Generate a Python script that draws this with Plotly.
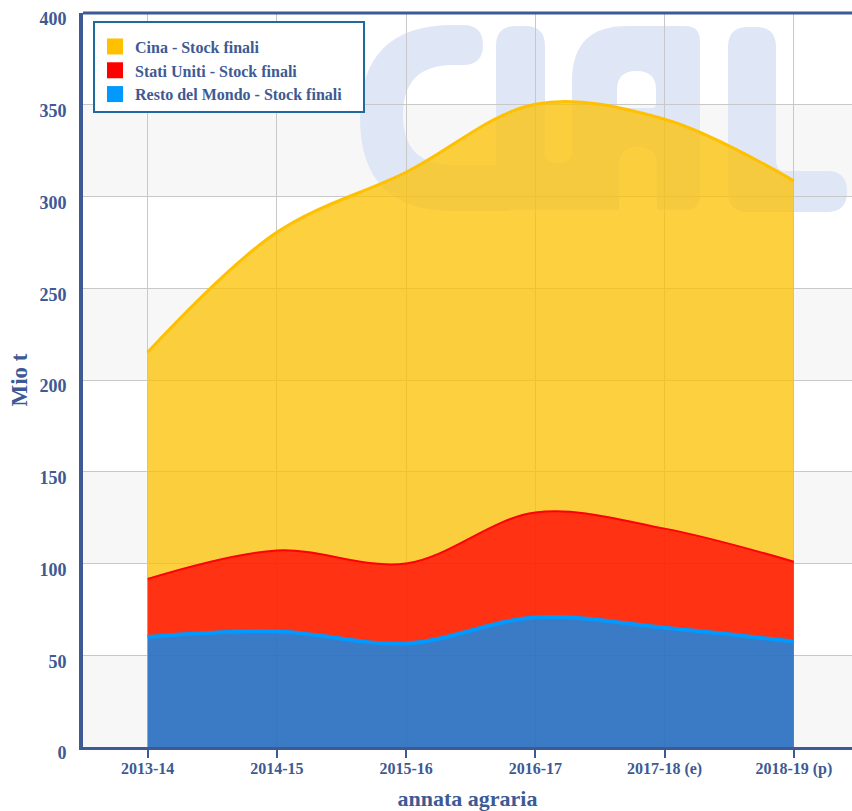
import math
import plotly.graph_objects as go

# ---------------- data ----------------
categories = ["2013-14", "2014-15", "2015-16", "2016-17", "2017-18 (e)", "2018-19 (p)"]
resto_mondo = [60.0, 63.0, 56.4, 70.6, 65.0, 57.5]
stati_uniti = [31.6, 44.1, 43.6, 57.2, 54.0, 43.5]
cina = [123.5, 173.4, 213.2, 222.5, 223.1, 207.5]
series_names = ["Cina - Stock finali", "Stati Uniti - Stock finali", "Resto del Mondo - Stock finali"]
y_ticks = [0, 50, 100, 150, 200, 250, 300, 350, 400]

# ---------------- style ----------------
TXT = "#3d5a94"
FONT = "Liberation Serif"
W, H = 852, 811
ML, MR, MT, MB = 83, 0, 13, 64
PW, PH = W - ML - MR, H - MT - MB


def P(x, y):
    return f"{(x - ML) / PW:.5f},{(MT + PH - y) / PH:.5f}"


def rpath(pts, radii):
    out = []
    n = len(pts)
    for i in range(n):
        px, py = pts[i]
        ax, ay = pts[i - 1]
        bx, by = pts[(i + 1) % n]
        r = radii[i]
        cmd = "M" if i == 0 else "L"
        if r == 0:
            out.append(f"{cmd}{P(px, py)}")
        else:
            du = math.hypot(ax - px, ay - py)
            dv = math.hypot(bx - px, by - py)
            s = (px + (ax - px) / du * r, py + (ay - py) / du * r)
            e = (px + (bx - px) / dv * r, py + (by - py) / dv * r)
            out.append(f"{cmd}{P(*s)}")
            out.append(f"Q{P(px, py)} {P(*e)}")
    out.append("Z")
    return " ".join(out)


fig = go.Figure()

# stacked areas
fig.add_trace(go.Scatter(
    x=categories, y=resto_mondo, name=series_names[2], stackgroup="s",
    mode="lines", line=dict(color="#0099ff", width=4, shape="spline", smoothing=1),
    fillcolor="rgba(44,112,191,0.93)", showlegend=False, hoverinfo="skip"))
fig.add_trace(go.Scatter(
    x=categories, y=stati_uniti, name=series_names[1], stackgroup="s",
    mode="lines", line=dict(color="#ff0000", width=2, shape="spline", smoothing=1),
    fillcolor="rgba(255,34,0,0.92)", showlegend=False, hoverinfo="skip"))
fig.add_trace(go.Scatter(
    x=categories, y=cina, name=series_names[0], stackgroup="s",
    mode="lines", line=dict(color="#ffc000", width=3, shape="spline", smoothing=1),
    fillcolor="rgba(252,192,0,0.75)", showlegend=False, hoverinfo="skip"))

# legend entries
for nm, col in zip(series_names, ["#ffc000", "#ff0000", "#0099ff"]):
    fig.add_trace(go.Scatter(x=[None], y=[None], mode="markers", name=nm + "\u00a0\u00a0\u00a0\u00a0",
                             marker=dict(symbol="square", size=16, color=col)))

shapes = []
# alternating bands
for lo in y_ticks[:-1:2]:
    shapes.append(dict(type="rect", xref="paper", yref="paper", x0=0, x1=1,
                       y0=lo / y_ticks[-1], y1=(lo + 50) / y_ticks[-1],
                       fillcolor="#f7f7f7", line_width=0, layer="below"))
WM = "#dfe6f5"
# watermark "CIAL"
c_pts = [(483, 25), (360, 25), (360, 211), (510, 211), (510, 165), (403, 165), (403, 65), (483, 65)]
c_r = [20, 93, 93, 0, 0, 50, 50, 20]
ia_pts = [(496, 26), (545, 26), (545, 163), (572, 163), (572, 26), (700, 26), (700, 210),
          (657, 210), (657, 147), (619, 147), (619, 210), (496, 210)]
ia_r = [20, 20, 12, 12, 55, 15, 15, 0, 19, 19, 0, 20]
hole = [(617, 71), (617, 108), (656, 108), (656, 71)]
hole_r = [19, 4, 4, 19]
l_pts = [(728, 27), (776, 27), (776, 171), (847, 171), (847, 212), (728, 212)]
l_r = [20, 20, 10, 20, 20, 20]
for path in [rpath(c_pts, c_r), rpath(ia_pts, ia_r) + " " + rpath(hole, hole_r), rpath(l_pts, l_r)]:
    shapes.append(dict(type="path", xref="paper", yref="paper", path=path,
                       fillcolor=WM, line_width=0, layer="below"))
# top border
shapes.append(dict(type="line", xref="paper", yref="paper", x0=0, x1=1, y0=1, y1=1,
                   line=dict(color=TXT, width=3), layer="above"))

fig.update_layout(
    width=W, height=H,
    margin=dict(l=ML, r=MR, t=MT, b=MB, autoexpand=False),
    paper_bgcolor="white", plot_bgcolor="white",
    font=dict(family=FONT, color=TXT, weight="bold"),
    shapes=shapes,
    showlegend=True,
    legend=dict(x=0.013, y=0.989, xanchor="left", yanchor="top", traceorder="normal",
                bgcolor="white", bordercolor="#1f6a9c", borderwidth=2,
                title=dict(text="\u00a0", font=dict(size=5)),
                font=dict(family=FONT, size=16, color=TXT, weight="bold")),
    xaxis=dict(type="category", range=[-0.5, 5.45], showgrid=True, gridcolor="#c8c8c8",
               gridwidth=1, showline=True, linewidth=3, linecolor=TXT, automargin=False,
               ticks="outside", ticklen=8, tickwidth=2, tickcolor=TXT, ticklabelstandoff=-3,
               tickfont=dict(size=16, family=FONT, color=TXT, weight="bold"),
               title=dict(text="annata agraria", standoff=16,
                          font=dict(size=22, family=FONT, color=TXT, weight="bold"))),
    yaxis=dict(range=[0, 400], tickvals=y_ticks, showgrid=True, gridcolor="#c8c8c8",
               gridwidth=1, showline=True, linewidth=4, linecolor=TXT, zeroline=False,
               automargin=False, ticklabeloverflow="allow",
               ticks="", ticklabelstandoff=9, ticklabelshift=6,
               tickfont=dict(size=18, family=FONT, color=TXT, weight="bold"),
               title=dict(text="Mio t", standoff=6,
                          font=dict(size=23, family=FONT, color=TXT, weight="bold"))),
)

fig.write_html("out.html", config={"displayModeBar": False},
               post_script="document.body.style.margin='0px';")
